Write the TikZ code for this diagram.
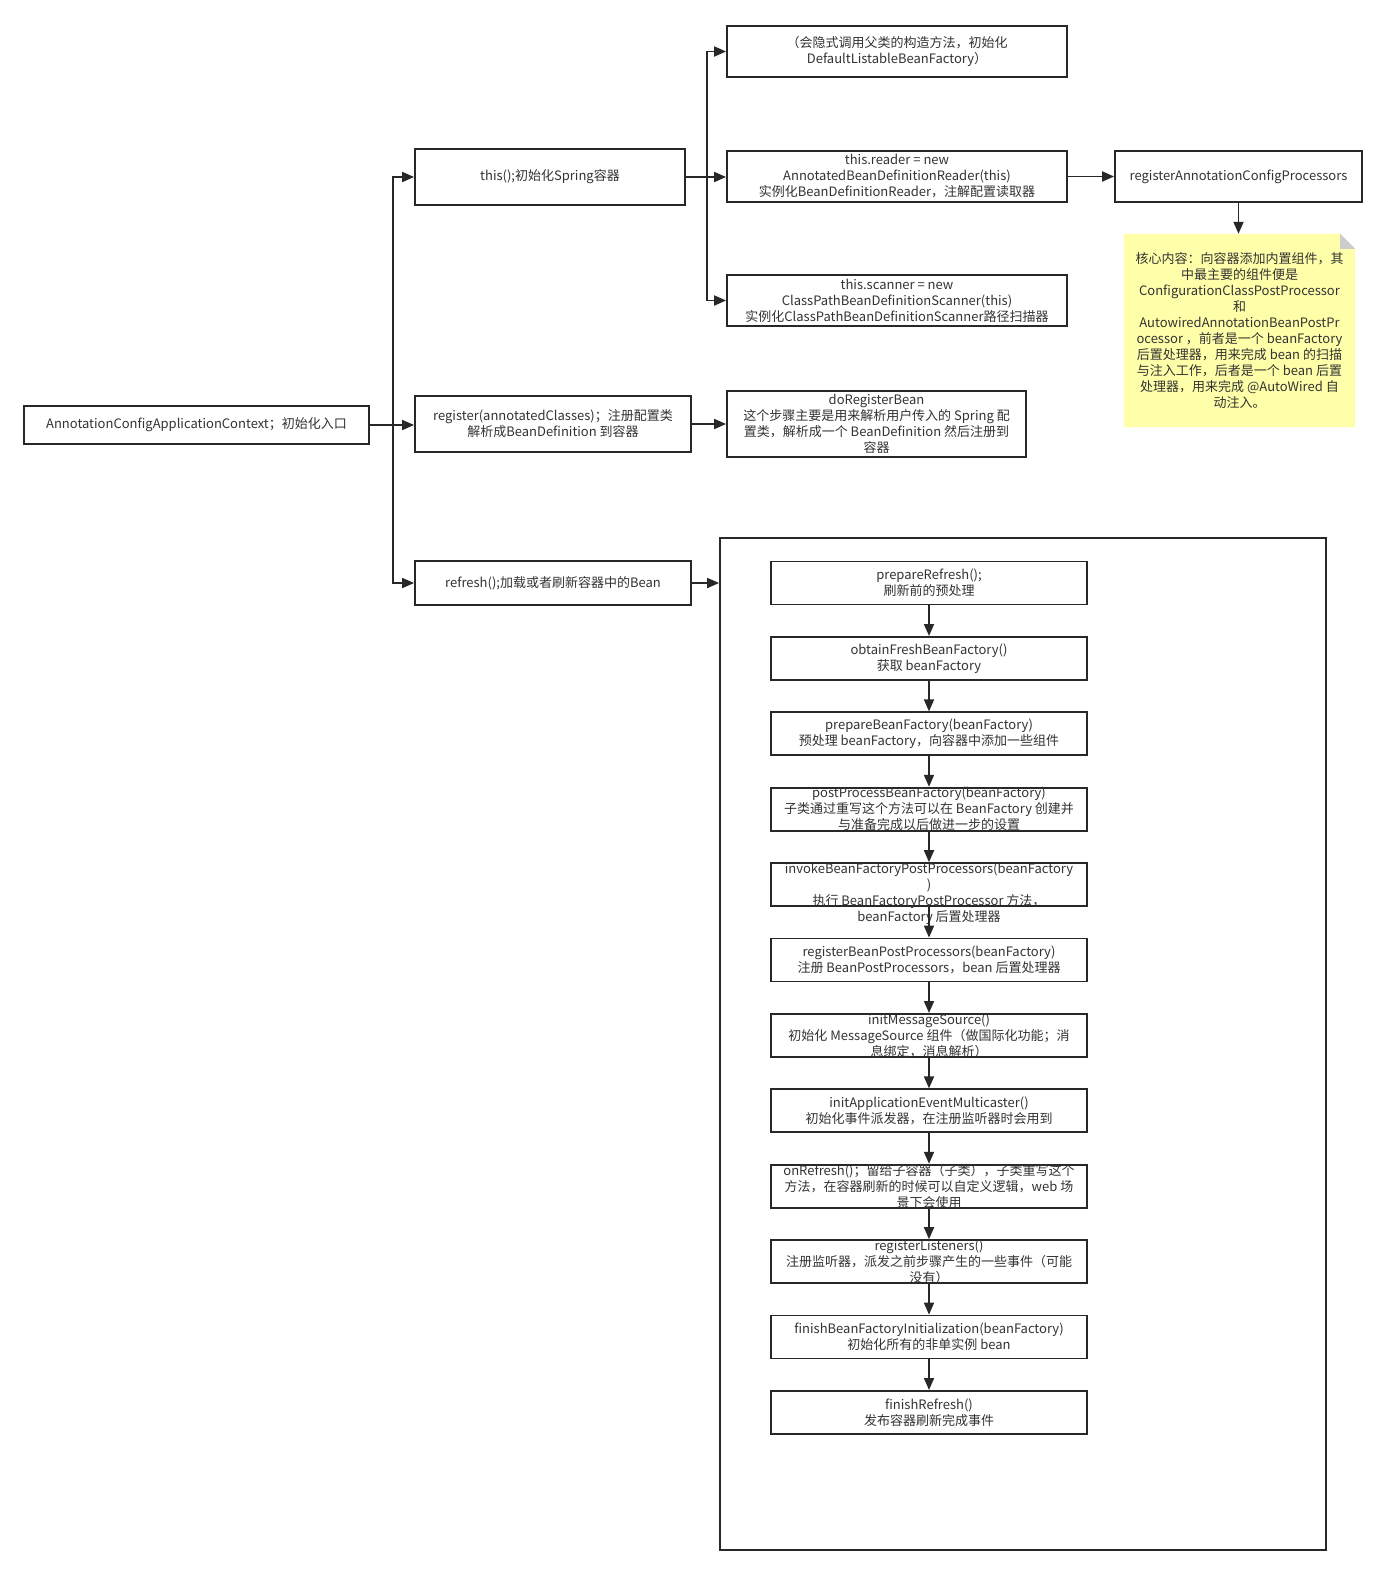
\documentclass[tikz,border=0pt]{standalone}
\usepackage{fontspec}
\setmainfont{Noto Sans CJK SC}
\usepackage{tikz}
\usetikzlibrary{arrows.meta, positioning, backgrounds}
\definecolor{mydark}{RGB}{40,40,40}
\definecolor{mytext}{RGB}{51,51,51}
\definecolor{notefill}{RGB}{255,255,170}
\definecolor{notefold}{RGB}{204,204,204}
\newcommand{\boxfont}{\fontsize{13}{16}\selectfont}
\tikzset{
  block/.style={rectangle, draw=mydark, line width=1.8pt, align=center,
    inner sep=0pt, font=\boxfont, text=mytext},
  stepbox/.style={block, minimum width=316pt, minimum height=43pt},
  overtext/.style={align=center, font=\boxfont, text=mytext},
  notebox/.style={rectangle, align=center, inner sep=0pt, font=\boxfont,
    text=mytext, minimum width=231pt, minimum height=193pt},
  arrow/.style={-{Triangle[length=12pt,width=10pt]}, line width=1.8pt, color=mydark}
}

\begin{document}
\begin{tikzpicture}[x=1pt, y=-1pt]
  \useasboundingbox (0,0) rectangle (1387,1575);
  \begin{scope}[on background layer]
    \fill[white] (0,0) rectangle (1387,1575);
  \end{scope}

  % Entry and the three calls
  \node[block, minimum width=345pt, minimum height=38pt] (ctx) at (196.5,425) {AnnotationConfigApplicationContext；初始化入口};
  \node[block, minimum width=270pt, minimum height=56pt] (init) at (550,177) {this();初始化Spring容器};
  \node[block, minimum width=276pt, minimum height=56pt] (reg) at (553,424) {register(annotatedClasses)；注册配置类\\解析成BeanDefinition 到容器};
  \node[block, minimum width=276pt, minimum height=44pt] (refr) at (553,583) {refresh();加载或者刷新容器中的Bean};

  % this() branch
  \node[block, minimum width=340pt, minimum height=51pt] (parent) at (897,51.5) {（会隐式调用父类的构造方法，初始化\\DefaultListableBeanFactory）};
  \node[block, minimum width=340pt, minimum height=51pt] (reader) at (897,176.5) {this.reader = new\\AnnotatedBeanDefinitionReader(this)\\实例化BeanDefinitionReader，注解配置读取器};
  \node[block, minimum width=340pt, minimum height=51pt] (scanner) at (897,300.5) {this.scanner = new\\ClassPathBeanDefinitionScanner(this)\\实例化ClassPathBeanDefinitionScanner路径扫描器};
  \node[block, minimum width=247pt, minimum height=51pt] (regproc) at (1238.5,176.5) {registerAnnotationConfigProcessors};

  % Note
  \node[notebox] (note) at (1239.5,330.5) {核心内容：向容器添加内置组件，其\\中最主要的组件便是\\ConfigurationClassPostProcessor\\和\\AutowiredAnnotationBeanPostPr\\ocessor ，前者是一个 beanFactory\\后置处理器，用来完成 bean 的扫描\\与注入工作，后者是一个 bean 后置\\处理器，用来完成 @AutoWired 自\\动注入。};
  \begin{scope}[on background layer]
    \fill[notefill] (note.south west) -- (note.north west) -- ([xshift=-15pt]note.north east)
      -- ([yshift=-15pt]note.north east) -- (note.south east) -- cycle;
    \fill[notefold] ([xshift=-15pt]note.north east) -- ([xshift=-15pt,yshift=-15pt]note.north east)
      -- ([yshift=-15pt]note.north east) -- cycle;
  \end{scope}

  % register() branch
  \node[block, minimum width=299pt, minimum height=66pt] (doreg) at (876.5,424) {doRegisterBean\\这个步骤主要是用来解析用户传入的 Spring 配\\置类，解析成一个 BeanDefinition 然后注册到\\容器};

  % refresh() steps
  \node[draw=mydark, line width=1.8pt, minimum width=606pt, minimum height=1012pt] (panel) at (1023,1044) {};
  \node[stepbox] (s1) at (929,583) {prepareRefresh();\\刷新前的预处理};
  \node[stepbox, below=30.6pt of s1] (s2) {obtainFreshBeanFactory()\\获取 beanFactory};
  \node[stepbox, below=30.6pt of s2] (s3) {prepareBeanFactory(beanFactory)\\预处理 beanFactory，向容器中添加一些组件};
  \node[stepbox, below=30.6pt of s3, label={[overtext]center:{postProcessBeanFactory(beanFactory)\\子类通过重写这个方法可以在 BeanFactory 创建并\\与准备完成以后做进一步的设置}}] (s4) {};
  \node[stepbox, below=30.6pt of s4, label={[overtext, yshift=-9pt]center:{invokeBeanFactoryPostProcessors(beanFactory\\)\\执行 BeanFactoryPostProcessor 方法，\\beanFactory 后置处理器}}] (s5) {};
  \node[stepbox, below=30.6pt of s5] (s6) {registerBeanPostProcessors(beanFactory)\\注册 BeanPostProcessors，bean 后置处理器};
  \node[stepbox, below=30.6pt of s6, label={[overtext]center:{initMessageSource()\\初始化 MessageSource 组件（做国际化功能；消\\息绑定，消息解析）}}] (s7) {};
  \node[stepbox, below=30.6pt of s7] (s8) {initApplicationEventMulticaster()\\初始化事件派发器，在注册监听器时会用到};
  \node[stepbox, below=30.6pt of s8, label={[overtext]center:{onRefresh()；留给子容器（子类），子类重写这个\\方法，在容器刷新的时候可以自定义逻辑，web 场\\景下会使用}}] (s9) {};
  \node[stepbox, below=30.6pt of s9, label={[overtext]center:{registerListeners()\\注册监听器，派发之前步骤产生的一些事件（可能\\没有）}}] (s10) {};
  \node[stepbox, below=30.6pt of s10] (s11) {finishBeanFactoryInitialization(beanFactory)\\初始化所有的非单实例 bean};
  \node[stepbox, below=30.6pt of s11] (s12) {finishRefresh()\\发布容器刷新完成事件};

  % Connectors
  \draw[arrow] (ctx.east) -- ++(23,0) |- (init.west);
  \draw[arrow] (ctx.east) -- (ctx.east -| reg.west);
  \draw[arrow] (ctx.east) -- ++(23,0) |- (refr.west);
  \draw[arrow] (init.east) -- ++(21,0) |- (parent.west);
  \draw[arrow] (init.east) -- (init.east -| reader.west);
  \draw[arrow] (init.east) -- ++(21,0) |- (scanner.west);
  \draw[arrow] (reader.east) -- (regproc.west);
  \draw[arrow] (regproc.south) -- (regproc.south |- note.north);
  \draw[arrow] (reg.east) -- (doreg.west);
  \draw[arrow] (refr.east) -- (refr.east -| panel.west);
  \foreach \a/\b in {s1/s2, s2/s3, s3/s4, s4/s5, s5/s6, s6/s7, s7/s8, s8/s9, s9/s10, s10/s11, s11/s12}
    \draw[arrow] (\a) -- (\b);
\end{tikzpicture}
\end{document}
